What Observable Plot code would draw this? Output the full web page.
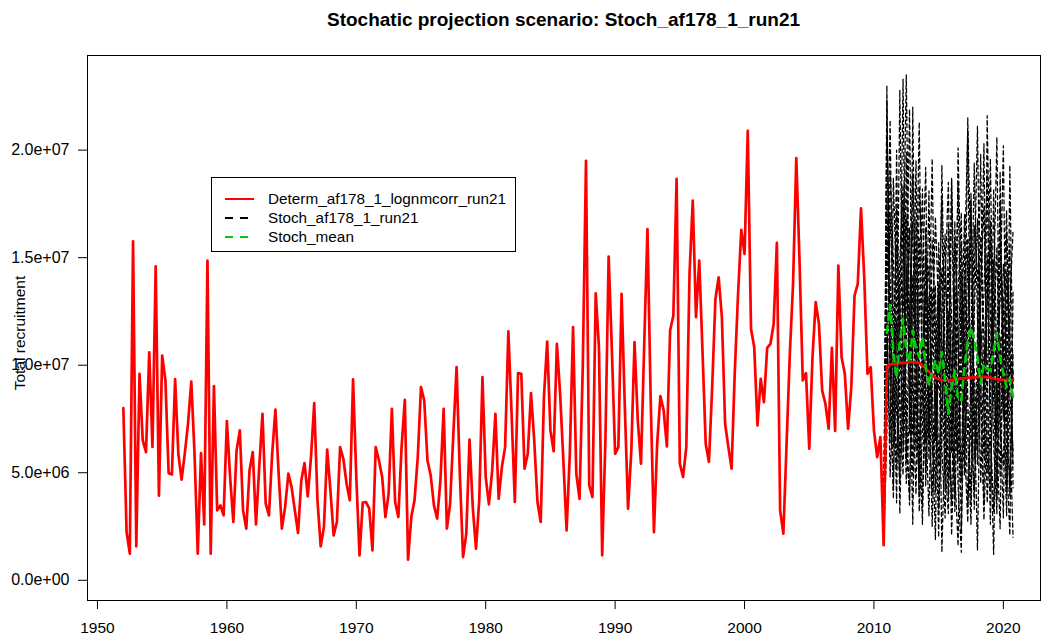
<!DOCTYPE html>
<html><head><meta charset="utf-8">
<script src="https://cdn.jsdelivr.net/npm/d3@7"></script>
<script src="https://cdn.jsdelivr.net/npm/@observablehq/plot@0.6"></script>
<style>
body{margin:0;background:#fff;font-family:"Liberation Sans",Arial,sans-serif;color:#000;}
#wrap{position:relative;width:1042px;height:641px;}
#title{position:absolute;left:87px;width:953px;top:9px;text-align:center;font-weight:bold;font-size:19px;}
#ylab{position:absolute;left:20px;top:333px;font-size:15.5px;transform:translate(-50%,-50%) rotate(-90deg);white-space:nowrap;}
#legend{position:absolute;left:211px;top:177px;width:305px;height:75px;border:1px solid #000;background:#fff;box-sizing:border-box;}
.lrow{position:absolute;left:0;height:19px;font-size:15.3px;line-height:19px;}
.lrow svg{position:absolute;left:13px;top:0;}
.lrow span{position:absolute;left:56px;white-space:nowrap;}
</style></head>
<body><div id="wrap"></div>
<script>
// Historical quarterly recruitment 1952.00 .. 2010.75 (millions)
const histStart = 1952;
const histValues = [
8.0,2.24,1.24,15.76,1.58,9.6,6.5,5.96,10.6,6.2,14.6,3.93,10.45,9.3,4.98,4.92,9.35,5.88,4.68,5.9,
7.3,9.24,5.9,1.24,5.91,2.6,14.86,1.24,9.03,3.25,3.48,3.02,7.4,4.8,2.71,
6.04,6.97,3.25,2.4,5.1,5.96,2.6,5.26,7.74,3.56,3.02,5.88,7.94,4.96,2.4,3.4,4.96,4.33,3.25,2.2,
4.64,5.45,3.9,5.73,8.24,3.72,1.58,2.48,6.08,4.18,2.09,2.71,6.19,5.65,4.49,3.72,9.34,4.8,1.16,3.61,
3.64,3.33,1.39,6.19,5.57,4.8,2.94,4.03,7.97,3.64,2.94,6.19,8.39,0.96,2.94,3.72,5.73,8.98,8.36,5.57,
4.88,3.48,2.87,4.64,7.97,2.4,3.56,6.81,9.91,4.96,1.08,2.17,6.54,3.4,1.47,3.72,9.45,4.8,3.53,5.11,7.74,
3.79,5.26,6.19,11.58,7.74,3.64,9.63,9.6,5.19,5.88,8.7,6.5,3.64,2.71,8.51,11.1,6.97,6.0,10.99,8.67,
5.57,2.32,5.88,11.77,4.96,3.79,9.91,19.5,4.41,3.87,13.34,10.84,1.16,6.5,15.05,10.68,5.88,6.19,13.32,8.05,
3.33,6.0,11.07,7.43,5.42,10.99,16.33,8.36,2.24,6.35,8.56,7.9,6.22,11.61,12.31,18.66,5.42,4.8,6.19,14.25,
17.65,12.23,14.86,10.68,6.35,5.5,8.98,13.08,14.09,12.23,7.28,6.19,5.19,9.75,13.32,16.29,15.17,20.9,11.69,10.84,
7.2,9.37,8.28,10.81,10.99,11.92,15.69,3.25,2.17,6.35,10.53,13.78,19.63,14.86,9.29,9.63,6.12,10.37,12.93,11.92,
8.82,8.21,7.05,10.81,6.94,14.63,10.37,9.6,7.05,8.98,13.24,13.78,17.29,14.09,9.6,9.91,6.97,5.73,6.66,1.63
];
// Projection quarterly 2011.00 .. 2020.75 (millions)
const projStart = 2011;
const determProj = [
9.95,10.05,10.05,10.05,10.1,10.1,10.12,10.14,10.14,10.12,10.1,10.0,9.85,9.7,9.55,9.42,9.35,9.3,9.29,9.3,
9.32,9.33,9.35,9.38,9.4,9.42,9.42,9.43,9.44,9.45,9.46,9.45,9.42,9.38,9.35,9.33,9.32,9.32,9.32,9.32
];
const stochMean = [
11.5,12.8,10.6,9.4,11.15,12.15,10.68,10.14,11.61,10.76,10.37,11.3,9.91,9.06,9.75,10.22,9.6,10.6,9.29,7.74,
8.98,9.75,8.36,8.36,9.91,11.15,11.77,11.15,10.37,9.14,10.06,9.83,9.75,10.68,11.46,10.37,9.6,8.98,9.37,8.51
];
const stoch1 = [23.0,8.5,4.2,12.1,9.8,17.5,6.3,3.9,14.2,11.0,5.1,8.8,16.4,7.2,4.0,10.5,13.8,6.1,2.9,9.4,18.6,8.0,5.5,12.7,7.9,15.3,9.1,3.3,11.6,19.8,7.4,5.0,10.2,14.9,6.6,2.4,12.3,17.2,8.7,6.0];
const stoch2 = [20.5,14.0,6.2,9.0,22.8,10.1,4.5,7.7,18.9,12.4,3.2,6.9,15.1,9.6,2.5,8.3,11.9,17.8,5.2,3.1,9.9,13.6,4.4,1.3,14.8,20.9,6.8,4.1,8.6,16.0,11.2,3.6,7.5,18.2,9.3,4.8,13.1,10.4,3.9,9.8];
const stoch3 = [13.5,21.4,9.7,5.3,11.8,23.3,8.1,3.5,10.6,19.5,7.0,2.6,12.9,14.6,5.8,7.4,9.2,19.3,10.3,4.7,6.5,15.8,12.0,2.2,8.9,21.5,14.1,5.6,9.0,12.6,20.3,6.4,4.3,11.7,15.5,7.9,2.9,14.4,11.5,5.4];
const stoch4 = [17.8,10.9,3.8,15.6,12.7,6.0,19.9,9.5,4.9,16.8,10.0,3.4,9.7,18.1,7.3,1.9,13.4,9.8,4.2,16.6,12.2,5.0,1.6,10.8,17.0,8.4,3.7,13.9,21.1,9.4,2.8,8.1,16.7,10.9,4.6,19.0,8.3,3.0,12.8,16.3];
const stoch5 = [9.6,17.1,12.5,7.9,4.6,14.3,23.5,11.4,6.8,8.2,15.9,9.3,5.0,11.5,19.6,8.8,2.0,12.6,16.1,7.6,3.6,11.1,18.4,9.7,4.9,12.0,17.7,8.2,1.4,10.7,13.3,18.9,7.0,3.2,9.9,13.0,20.2,7.2,4.4,10.6];
const stoch6 = [11.2,6.4,18.7,13.2,3.1,9.9,12.8,21.9,8.7,4.0,12.3,18.2,7.8,3.0,10.8,16.9,12.4,1.3,7.1,14.5,9.0,3.8,20.1,12.9,6.2,2.7,10.5,19.4,12.1,4.5,9.6,15.1,6.9,1.2,10.8,17.6,9.5,4.1,19.3,8.9];
const stoch7 = [15.7,12.2,7.1,20.0,7.6,4.9,14.6,10.3,2.6,12.5,21.3,8.9,6.4,13.2,9.0,4.1,15.7,11.3,7.6,3.9,18.7,11.5,6.1,14.3,10.2,3.4,7.7,16.5,14.3,8.0,3.5,21.6,12.4,6.3,3.1,15.9,11.2,5.8,2.1,13.4];
const stoch8 = [22.3,9.2,10.4,3.6,14.9,18.4,5.5,12.6,16.7,7.3,4.7,13.9,19.2,6.6,11.0,13.7,5.3,8.4,14.6,10.9,2.1,7.4,13.2,17.1,5.4,9.7,18.0,7.3,6.1,13.8,17.4,9.8,2.6,13.5,20.6,6.9,5.3,11.9,15.6,4.3];
const stoch9 = [6.8,19.0,14.9,8.8,5.7,12.3,16.9,6.8,22.0,9.2,3.9,10.7,13.5,5.6,15.8,11.9,3.3,6.7,13.9,18.5,7.8,3.2,9.8,15.6,11.3,6.6,2.6,12.4,16.8,10.9,5.7,12.7,19.6,8.5,3.8,9.1,14.7,12.5,7.0,2.0];
const stoch10 = [12.4,4.8,8.9,17.3,10.5,7.4,11.2,16.4,9.3,6.0,18.3,14.6,4.4,9.1,13.6,6.5,10.6,14.5,8.9,12.5,5.9,16.7,10.5,4.6,13.8,15.9,8.2,9.9,5.4,11.8,8.8,13.0,15.8,9.4,6.7,11.3,7.6,16.2,10.3,8.5];
const stochRuns = [stoch1,stoch2,stoch3,stoch4,stoch5,stoch6,stoch7,stoch8,stoch9,stoch10];
const xTicks = [1950,1960,1970,1980,1990,2000,2010,2020];
const yTicks = [0,5e6,1e7,1.5e7,2e7];

const title = "Stochatic projection scenario: Stoch_af178_1_run21";
const yLabel = "Total recruitment";
const legendLabels = ["Determ_af178_1_lognmcorr_run21","Stoch_af178_1_run21","Stoch_mean"];

// build tables
const M = 1e6;
const hist = histValues.map((v,i)=>({year: histStart + i*0.25, value: v*M}));
const lastHist = hist[hist.length-1];
const determ = hist.concat(determProj.map((v,i)=>({year: projStart + i*0.25, value: v*M})));
const meanRows = stochMean.map((v,i)=>({year: projStart + i*0.25, value: v*M}));
const stochRows = [];
stochRuns.forEach((run,r)=>{
  stochRows.push({run:r, year:lastHist.year, value:lastHist.value});
  run.forEach((v,i)=>stochRows.push({run:r, year: projStart + i*0.25, value: v*M}));
});

function sci(v){
  const [m,e] = v.toExponential(1).split("e");
  const s = e[0]; const n = Math.abs(+e);
  return m + "e" + s + String(n).padStart(2,"0");
}

const chart = Plot.plot({
  width:1042, height:641,
  marginLeft:87, marginRight:2, marginTop:55, marginBottom:41,
  style:{fontFamily:"'Liberation Sans', Arial, sans-serif", fontSize:"15px", color:"black", background:"white", overflow:"visible"},
  x:{domain:[1949.23,2022.87], label:null},
  y:{domain:[-0.94e6,2.44e7], label:null},
  marks:[
    Plot.line(stochRows,{x:"year", y:"value", z:"run", stroke:"black", strokeWidth:1.25, strokeDasharray:"4,3"}),
    Plot.line(determ,{x:"year", y:"value", stroke:"#ff0000", strokeWidth:2.7, strokeLinejoin:"round"}),
    Plot.line(meanRows,{x:"year", y:"value", stroke:"#00cd00", strokeWidth:2.6, strokeDasharray:"7,6"}),
    Plot.frame({stroke:"black"}),
    Plot.axisX({ticks:xTicks, tickFormat:d=>String(d), tickSize:9, tickPadding:12, label:null, fontSize:15.5}),
    Plot.axisY({ticks:yTicks, tickFormat:sci, tickSize:9, tickPadding:9, label:null, fontSize:16})
  ]
});
const wrap = document.getElementById("wrap");
wrap.appendChild(chart);

const t = document.createElement("div"); t.id="title"; t.textContent = title; wrap.appendChild(t);
const yl = document.createElement("div"); yl.id="ylab"; yl.textContent = yLabel; wrap.appendChild(yl);

const lg = document.createElement("div"); lg.id="legend";
const styles = [
  {stroke:"#ff0000", dash:null},
  {stroke:"#000000", dash:"8,7"},
  {stroke:"#00cd00", dash:"8,7"}
];
const rowTops = [11, 30, 49];
legendLabels.forEach((lab,i)=>{
  const row = document.createElement("div"); row.className="lrow"; row.style.top = rowTops[i]+"px";
  const ns = "http://www.w3.org/2000/svg";
  const svg = document.createElementNS(ns,"svg"); svg.setAttribute("width","30"); svg.setAttribute("height","19");
  const ln = document.createElementNS(ns,"line");
  ln.setAttribute("x1","0"); ln.setAttribute("x2","29"); ln.setAttribute("y1","10"); ln.setAttribute("y2","10");
  ln.setAttribute("stroke",styles[i].stroke); ln.setAttribute("stroke-width","2");
  if(styles[i].dash) ln.setAttribute("stroke-dasharray",styles[i].dash);
  svg.appendChild(ln); row.appendChild(svg);
  const sp = document.createElement("span"); sp.textContent = lab; row.appendChild(sp);
  lg.appendChild(row);
});
wrap.appendChild(lg);
</script>
</body></html>
